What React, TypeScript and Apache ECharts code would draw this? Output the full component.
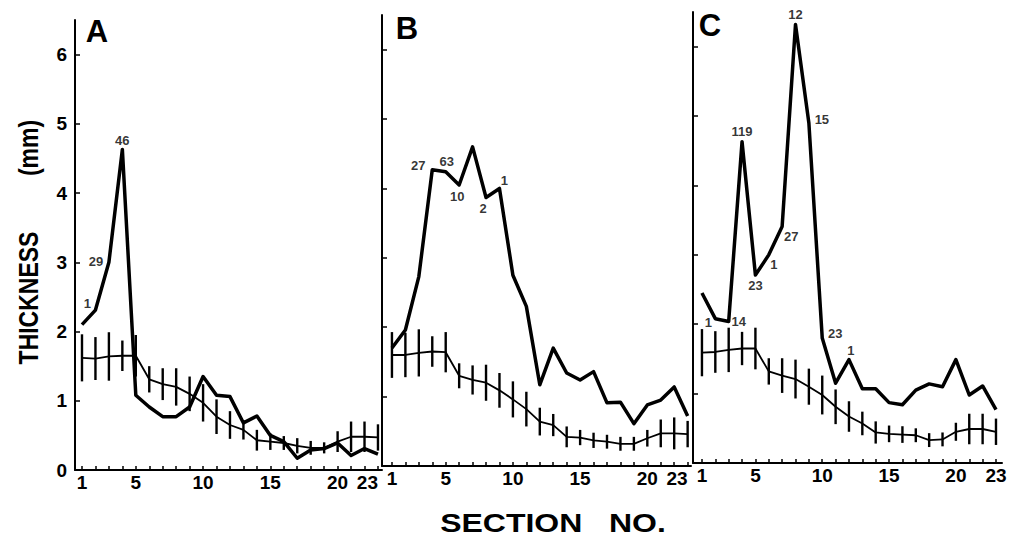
import React, { useEffect, useRef } from "react";
import * as echarts from "echarts";

// Section numbers along each panel's x axis
const sections = [1, 2, 3, 4, 5, 6, 7, 8, 9, 10, 11, 12, 13, 14, 15, 16, 17, 18, 19, 20, 21, 22, 23];
const sectionTickLabels = [1, 5, 10, 15, 20];
const lastSectionLabel = [23];
const thicknessTicks = [0, 1, 2, 3, 4, 5, 6];

// Panel A
const aSample = [2.1, 2.31, 3.0, 4.63, 1.08, 0.91, 0.77, 0.77, 0.91, 1.35, 1.08, 1.06, 0.68, 0.78, 0.5, 0.41, 0.17, 0.29, 0.31, 0.39, 0.21, 0.31, 0.23];
const aMean = [1.62, 1.61, 1.64, 1.65, 1.65, 1.31, 1.24, 1.2, 1.1, 0.97, 0.77, 0.65, 0.58, 0.43, 0.41, 0.39, 0.35, 0.32, 0.32, 0.41, 0.48, 0.48, 0.47];
const aErr = [0.34, 0.31, 0.35, 0.22, 0.3, 0.19, 0.23, 0.27, 0.25, 0.27, 0.25, 0.2, 0.14, 0.15, 0.12, 0.1, 0.11, 0.1, 0.08, 0.15, 0.22, 0.22, 0.19];
const aNotes: [number, string][] = [[2, "1"], [3, "29"], [4, "46"]];

// Panel B
const bSample = [1.7, 1.96, 2.73, 4.27, 4.24, 4.05, 4.6, 3.87, 4.0, 2.75, 2.3, 1.17, 1.7, 1.34, 1.24, 1.36, 0.91, 0.92, 0.61, 0.88, 0.95, 1.14, 0.72];
const bMean = [1.6, 1.6, 1.63, 1.65, 1.64, 1.3, 1.24, 1.2, 1.09, 0.96, 0.82, 0.64, 0.59, 0.42, 0.41, 0.37, 0.35, 0.32, 0.32, 0.4, 0.47, 0.47, 0.46];
const bErr = [0.33, 0.32, 0.34, 0.22, 0.29, 0.18, 0.21, 0.26, 0.25, 0.26, 0.25, 0.2, 0.16, 0.15, 0.11, 0.11, 0.1, 0.1, 0.1, 0.12, 0.2, 0.23, 0.19];
const bNotes: [number, string][] = [[4, "27"], [5, "63"], [6, "10"], [8, "2"], [9, "1"]];

// Panel C
const cSample = [2.45, 2.08, 2.04, 4.63, 2.71, 3.0, 3.41, 6.32, 4.9, 1.8, 1.15, 1.49, 1.07, 1.07, 0.87, 0.84, 1.05, 1.14, 1.1, 1.49, 0.98, 1.11, 0.77];
const cMean = [1.59, 1.6, 1.63, 1.65, 1.65, 1.32, 1.26, 1.21, 1.1, 0.98, 0.81, 0.67, 0.57, 0.44, 0.42, 0.41, 0.4, 0.33, 0.34, 0.45, 0.49, 0.49, 0.45];
const cErr = [0.34, 0.3, 0.32, 0.24, 0.3, 0.19, 0.25, 0.28, 0.26, 0.28, 0.25, 0.22, 0.17, 0.16, 0.12, 0.12, 0.1, 0.1, 0.1, 0.13, 0.22, 0.22, 0.19];
const cNotes: [number, string][] = [[2, "1"], [3, "14"], [4, "119"], [5, "23"], [6, "1"], [7, "27"], [8, "12"], [9, "15"], [10, "23"], [12, "1"]];

const FONT = '"Liberation Sans", Arial, Helvetica, sans-serif';

// Where each annotation sits relative to its point, in pixels
const noteOffsets: [number, number][][] = [
  [[-8, -7], [-13, -1], [0, -9]],
  [[-14, -4], [1, -10], [-2, 12], [-3, 11], [5, -8]],
  [[-7, 4], [10, 0], [0, -10], [0, 11], [5, 10], [9, 10], [0, -10], [13, -4], [13, -5], [2, -9]],
];

const panelGrids = [
  { left: 75, top: 20, width: 307, height: 450 },
  { left: 382, top: 15, width: 309, height: 451 },
  { left: 693, top: 12, width: 309, height: 451 },
];
const panelXRange: [number, number][] = [
  [0.48, 23.3],
  [0.26, 23.25],
  [0.33, 23.45],
];
// the closing "23" label sits left of its tick in A and B, centred in C
const lastLabelAlign = ["right", "right", "center"];

const tickFont = { color: "#000", fontFamily: FONT, fontWeight: "bold", fontSize: 19 };

export default function App() {
  const ref = useRef<HTMLDivElement>(null);

  useEffect(() => {
    if (!ref.current) return;
    const chart = echarts.init(ref.current, null, { renderer: "svg" });

    const panels = [
      { sample: aSample, mean: aMean, err: aErr, notes: aNotes },
      { sample: bSample, mean: bMean, err: bErr, notes: bNotes },
      { sample: cSample, mean: cMean, err: cErr, notes: cNotes },
    ];

    const mainX = panels.map((_, i) => ({
      type: "value",
      gridIndex: i,
      position: "bottom",
      min: panelXRange[i][0],
      max: panelXRange[i][1],
      axisLine: { show: true, onZero: false, lineStyle: { color: "#000", width: 2 } },
      axisTick: { show: true, inside: true, length: 4, customValues: sections, lineStyle: { color: "#000", width: 1.5 } },
      axisLabel: { show: true, customValues: sectionTickLabels, margin: 3, ...tickFont },
      splitLine: { show: false },
    }));
    const endX = panels.map((_, i) => ({
      type: "value",
      gridIndex: i,
      position: "bottom",
      offset: 0,
      min: panelXRange[i][0],
      max: panelXRange[i][1],
      axisLine: { show: false },
      axisTick: { show: false },
      axisLabel: { show: true, customValues: lastSectionLabel, align: lastLabelAlign[i], margin: 3, ...tickFont },
      splitLine: { show: false },
    }));

    const yAxis = panels.map((_, i) => ({
      type: "value",
      gridIndex: i,
      min: 0,
      max: 6.5,
      axisLine: { show: true, lineStyle: { color: "#000", width: 2 } },
      axisTick: { show: true, inside: true, length: 5, customValues: thicknessTicks, lineStyle: { color: "#000", width: 1.5 } },
      axisLabel: { show: i === 0, customValues: thicknessTicks, margin: 8, ...tickFont },
      splitLine: { show: false },
    }));

    const series: any[] = [];
    panels.forEach((p, i) => {
      // individual thickness profile
      series.push({
        type: "line",
        xAxisIndex: i,
        yAxisIndex: i,
        data: sections.map((s, k) => [s, p.sample[k]]),
        symbol: "none",
        lineStyle: { color: "#000", width: 3.5, join: "round" },
        z: 3,
      });
      // mean profile
      series.push({
        type: "line",
        xAxisIndex: i,
        yAxisIndex: i,
        data: sections.map((s, k) => [s, p.mean[k]]),
        symbol: "none",
        lineStyle: { color: "#000", width: 1.8 },
        z: 2,
      });
      // spread around the mean
      series.push({
        type: "custom",
        xAxisIndex: i,
        yAxisIndex: i,
        data: sections.map((s, k) => [s, p.mean[k] - p.err[k], p.mean[k] + p.err[k]]),
        encode: { x: 0, y: [1, 2] },
        renderItem: (_params: any, api: any) => {
          const lo = api.coord([api.value(0), api.value(1)]);
          const hi = api.coord([api.value(0), api.value(2)]);
          return {
            type: "line",
            shape: { x1: lo[0], y1: lo[1], x2: hi[0], y2: hi[1] },
            style: { stroke: "#000", lineWidth: 2.4 },
          };
        },
        z: 2,
      });
      // counts written beside the profile
      series.push({
        type: "scatter",
        xAxisIndex: i,
        yAxisIndex: i,
        symbolSize: 1,
        itemStyle: { color: "rgba(0,0,0,0)" },
        data: p.notes.map(([s, text], k) => ({
          name: text,
          value: [s, p.sample[s - 1]],
          label: { offset: noteOffsets[i][k] },
        })),
        label: {
          show: true,
          position: "inside",
          formatter: "{b}",
          color: "#000",
          fontFamily: FONT,
          fontWeight: "bold",
          fontSize: 13,
        },
        z: 4,
      });
    });

    const textStyle = (text: string, size: number) => ({
      text,
      fill: "#000",
      font: `bold ${size}px ${FONT}`,
      textAlign: "center",
      textVerticalAlign: "middle",
    });

    chart.setOption({
      animation: false,
      backgroundColor: "#fff",
      grid: panelGrids.map((g) => ({ ...g, containLabel: false })),
      xAxis: [...mainX, ...endX],
      yAxis,
      series,
      graphic: [
        { type: "text", x: 97, y: 31, style: textStyle("A", 31) },
        { type: "text", x: 407, y: 28, style: textStyle("B", 31) },
        { type: "text", x: 710, y: 25, style: textStyle("C", 31) },
        { type: "text", x: 28, y: 298, rotation: Math.PI / 2, scaleY: 1.2, style: textStyle("THICKNESS", 23) },
        { type: "text", x: 28, y: 148, rotation: Math.PI / 2, scaleY: 1.2, style: textStyle("(mm)", 23) },
        { type: "text", x: 553, y: 523, scaleX: 1.28, style: textStyle("SECTION   NO.", 25) },
      ],
    });

    return () => chart.dispose();
  }, []);

  return (
    <div
      ref={ref}
      style={{ position: "fixed", left: 0, top: 0, width: 1014, height: 545, background: "#fff" }}
    />
  );
}
